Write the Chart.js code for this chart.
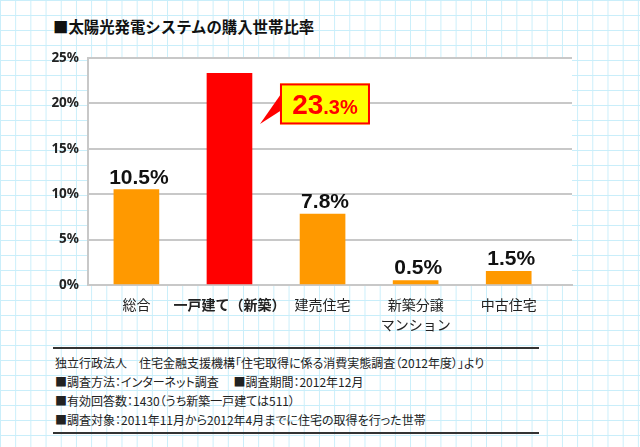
<!DOCTYPE html>
<html><head><meta charset="utf-8">
<script src="https://cdn.jsdelivr.net/npm/chart.js@4/dist/chart.umd.min.js"></script>
<style>
html,body{margin:0;padding:0;}
body{width:640px;height:447px;position:relative;overflow:hidden;background-color:#fff;
background-image:linear-gradient(to right,#c9eefa 1px,transparent 1px),linear-gradient(to bottom,#c9eefa 1px,transparent 1px);
background-size:15.2px 15px;background-position:0 0;}
#title{position:absolute;left:53px;top:18px;font-weight:bold;font-size:15.4px;line-height:16px;font-family:"Noto Sans CJK JP";color:#111;white-space:nowrap;}
#wrap{position:absolute;left:0;top:0;width:640px;height:345px;}
#notes{position:absolute;left:53px;top:347px;width:486px;height:87px;box-sizing:border-box;border-top:2px solid #333;border-bottom:2px solid #333;font-size:12px;font-family:"Noto Sans CJK JP";color:#222;line-height:19px;padding:4px 0 0 2px;font-feature-settings:"palt";white-space:nowrap;}
</style></head>
<body>
<div id="title">■太陽光発電システムの購入世帯比率</div>
<div id="wrap"><canvas id="c" width="640" height="345"></canvas></div>
<div id="notes">
<div>独立行政法人　住宅金融支援機構「住宅取得に係る消費実態調査（2012年度）」より</div>
<div>■調査方法：インターネット調査　 ■調査期間：2012年12月</div>
<div>■有効回答数：1430（うち新築一戸建ては511）</div>
<div>■調査対象：2011年11月から2012年4月までに住宅の取得を行った世帯</div>
</div>
<script>
const categories = ['総合', '一戸建て（新築）', '建売住宅', ['新築分譲', 'マンション'], '中古住宅'];
const values = [10.5, 23.3, 7.8, 0.5, 1.5];
const yTicks = [0, 5, 10, 15, 20, 25];
const highlightIndex = 1;

const numFont = '"Liberation Sans", Arial, sans-serif';

const bgPlugin = {
  id: 'bg',
  beforeDraw(chart) {
    const a = chart.chartArea, ctx = chart.ctx;
    ctx.save();
    ctx.fillStyle = '#ffffff';
    ctx.fillRect(a.left, a.top, a.right - a.left, a.bottom - a.top);
    ctx.restore();
  }
};

const labelPlugin = {
  id: 'valueLabels',
  afterDatasetsDraw(chart) {
    const ctx = chart.ctx;
    const meta = chart.getDatasetMeta(0);
    meta.data.forEach((bar, i) => {
      const txt = values[i].toFixed(1);
      ctx.save();
      if (i === highlightIndex) {
        const bx = bar.x + 50.5, by = bar.y + 10, bw = 90, bh = 41;
        ctx.fillStyle = '#ff0000';
        ctx.beginPath();
        ctx.moveTo(bar.x + 30.5, bar.y + 50.5);
        ctx.lineTo(bx + 1, bar.y + 20.5);
        ctx.lineTo(bx + 1, bar.y + 37);
        ctx.closePath();
        ctx.fill();
        ctx.fillStyle = '#ffff00';
        ctx.fillRect(bx, by, bw, bh);
        ctx.strokeStyle = '#ff0000';
        ctx.lineWidth = 2;
        ctx.strokeRect(bx + 1, by + 1, bw - 2, bh - 2);
        const [ip, dp] = txt.split('.');
        const big = 'bold 28px ' + numFont, small = 'bold 20px ' + numFont;
        ctx.font = big; const w1 = ctx.measureText(ip).width;
        ctx.font = small; const w2 = ctx.measureText('.' + dp + '%').width;
        let x = bx + bw / 2 - (w1 + w2) / 2;
        const base = by + 30.5;
        ctx.fillStyle = '#ff0000';
        ctx.textAlign = 'left';
        ctx.textBaseline = 'alphabetic';
        ctx.font = big; ctx.fillText(ip, x, base);
        ctx.font = small; ctx.fillText('.' + dp + '%', x + w1, base);
      } else {
        ctx.font = 'bold 21px ' + numFont;
        ctx.fillStyle = '#111';
        ctx.textAlign = 'center';
        ctx.textBaseline = 'alphabetic';
        ctx.fillText(txt + '%', bar.x + 2.5, bar.y - 6);
      }
      ctx.restore();
    });
  }
};

new Chart(document.getElementById('c'), {
  type: 'bar',
  data: {
    datasets: [{
      data: values.map((v, i) => ({ x: i, y: v })),
      backgroundColor: (c) => c.dataIndex === highlightIndex ? '#ff0000' : '#ff9900',
      barThickness: 45,
      borderWidth: 0
    }]
  },
  options: {
    responsive: false,
    animation: false,
    devicePixelRatio: 1,
    layout: { padding: { top: 58, right: 68, bottom: 10, left: 0 } },
    plugins: { legend: { display: false }, tooltip: { enabled: false } },
    scales: {
      x: {
        type: 'linear', min: -0.52, max: 4.68, offset: false,
        afterBuildTicks: (s) => { s.ticks = categories.map((_, i) => ({ value: i })); },
        afterFit: (s) => { s.height = 50; },
        grid: { display: false, drawTicks: false },
        border: { display: true, color: '#c8c8c8', width: 2 },
        ticks: {
          autoSkip: false, maxRotation: 0, minRotation: 0, padding: 10, color: '#222',
          font: (c) => ({ family: '"Noto Sans CJK JP"', size: 14, weight: c.index === highlightIndex ? 'bold' : 'normal', lineHeight: 20 / 14 }),
          callback: (v) => categories[v]
        }
      },
      y: {
        min: 0, max: 25,
        afterBuildTicks: (s) => { s.ticks = yTicks.map(v => ({ value: v })); },
        afterFit: (s) => { s.width = 88; },
        grid: { color: '#c8c8c8', lineWidth: 2, drawTicks: false },
        border: { display: true, color: '#c8c8c8', width: 2 },
        ticks: { padding: 9, color: '#222', font: { family: '"Noto Sans"', size: 13.5, weight: 'bold' }, callback: (v) => v + '%' }
      }
    }
  },
  plugins: [bgPlugin, labelPlugin]
});
</script>
</body></html>
